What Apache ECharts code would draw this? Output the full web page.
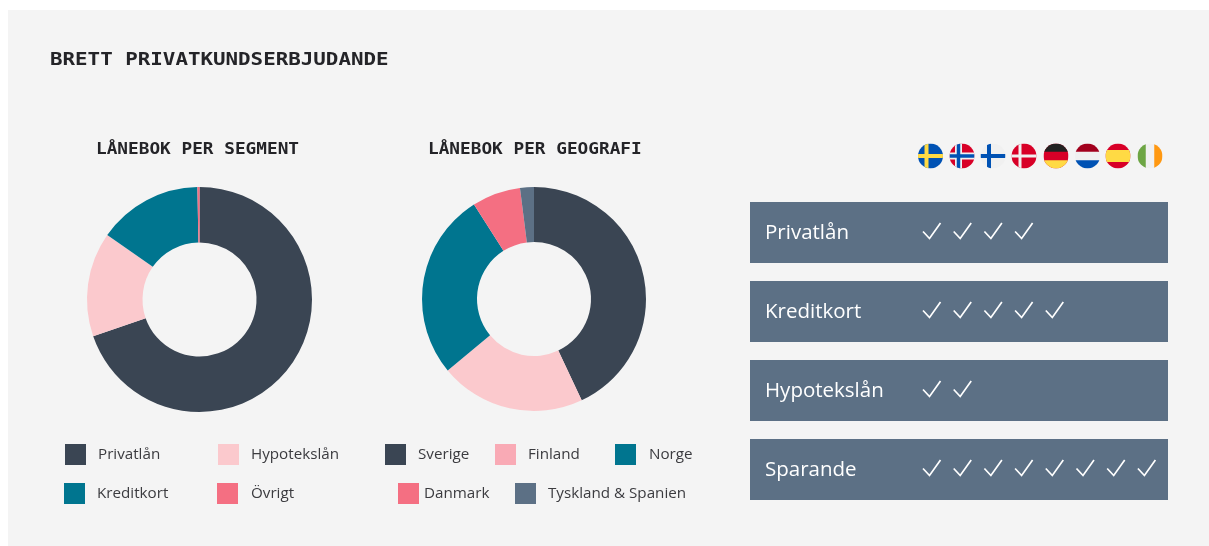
<!DOCTYPE html>
<html>
<head>
<meta charset="utf-8">
<style>
  html, body { margin: 0; padding: 0; background: #fff; }
  #main { width: 1209px; height: 546px; }
</style>
</head>
<body>
<div id="main"></div>
<script src="https://cdn.jsdelivr.net/npm/echarts@6/dist/echarts.min.js"></script>
<script>
// data
const segmentNames = ['Privatlån', 'Hypotekslån', 'Kreditkort', 'Övrigt'];
const segmentValues = [69.7, 15, 15, 0.3];
const segmentColors = ['#3a4553', '#fbc9cd', '#00758f', '#f46f82'];

const geoNames = ['Sverige', 'Finland', 'Norge', 'Danmark', 'Tyskland & Spanien'];
const geoValues = [43, 21, 27, 7, 2];
const geoColors = ['#3a4553', '#fbc9cd', '#00758f', '#f46f82', '#5c7085'];
const geoLegendColors = ['#3a4553', '#f9aab5', '#00758f', '#f46f82', '#5c7085'];

const offerNames = ['Privatlån', 'Kreditkort', 'Hypotekslån', 'Sparande'];
const offerChecks = [4, 5, 2, 8];

const mainTitle = 'BRETT PRIVATKUNDSERBJUDANDE';
const pieTitles = ['LÅNEBOK PER SEGMENT', 'LÅNEBOK PER GEOGRAFI'];

// legend positions: [swatch left, swatch top, text offset from swatch]
const segmentLegendPos = [[65, 444, 12], [218, 444, 12], [64, 483, 12], [217, 483, 13]];
const geoLegendPos = [[385, 444, 12], [495, 444, 12], [615, 444, 13], [398, 483, 5], [515, 483, 12]];

const MONO = '"DejaVu Sans Mono", "Liberation Mono", monospace';
const SANS = '"Open Sans", "Noto Sans", sans-serif';

function flagUrl(body) {
  const svg = '<svg xmlns="http://www.w3.org/2000/svg" width="50" height="50" viewBox="0 0 50 50">' +
    '<defs><clipPath id="c"><circle cx="25" cy="25" r="25"/></clipPath></defs>' +
    '<g clip-path="url(#c)">' + body + '</g></svg>';
  return 'data:image/svg+xml;charset=utf-8,' + encodeURIComponent(svg);
}
function r(x, y, w, h, c) {
  return '<rect x="' + x + '" y="' + y + '" width="' + w + '" height="' + h + '" fill="' + c + '"/>';
}
const flags = [
  r(0, 0, 50, 50, '#0052b4') + r(13, 0, 8, 50, '#ffda44') + r(0, 21, 50, 8, '#ffda44'),
  r(0, 0, 50, 50, '#d80027') + r(11, 0, 14, 50, '#f0f0f0') + r(0, 18, 50, 14, '#f0f0f0') + r(14.5, 0, 7, 50, '#0052b4') + r(0, 21.5, 50, 7, '#0052b4'),
  r(0, 0, 50, 50, '#f0f0f0') + r(13, 0, 8, 50, '#0052b4') + r(0, 21, 50, 8, '#0052b4'),
  r(0, 0, 50, 50, '#d80027') + r(14, 0, 6, 50, '#f0f0f0') + r(0, 22, 50, 6, '#f0f0f0'),
  r(0, 0, 50, 50, '#d80027') + r(0, 0, 50, 16.5, '#222') + r(0, 33.5, 50, 16.5, '#ffda44'),
  r(0, 0, 50, 50, '#f0f0f0') + r(0, 0, 50, 16.5, '#a2001d') + r(0, 33.5, 50, 16.5, '#0052b4'),
  r(0, 0, 50, 50, '#d80027') + r(0, 13, 50, 24, '#ffda44'),
  r(0, 0, 50, 50, '#f0f0f0') + r(0, 0, 16.5, 50, '#6da544') + r(33.5, 0, 16.5, 50, '#ff9811')
];
const flagX = [918, 949.5, 980.5, 1011.5, 1043.5, 1075, 1105.5, 1137.5];

const graphic = [
  { type: 'rect', silent: true, z: -10, shape: { x: 8, y: 10, width: 1201, height: 536 }, style: { fill: '#f4f4f4' } },
  // headings are stretched sideways to get the wide mono look of the original
  { type: 'text', silent: true, x: 50, y: 60.5, scaleX: 1.157, style: { text: mainTitle, fill: '#242428', font: 'bold 18px ' + MONO, verticalAlign: 'middle' } },
  { type: 'text', silent: true, x: 96, y: 149.5, scaleX: 1.145, style: { text: pieTitles[0], fill: '#242428', font: 'bold 15.5px ' + MONO, verticalAlign: 'middle' } },
  { type: 'text', silent: true, x: 428, y: 149.5, scaleX: 1.145, style: { text: pieTitles[1], fill: '#242428', font: 'bold 15.5px ' + MONO, verticalAlign: 'middle' } }
];
flags.forEach((body, i) => {
  graphic.push({ type: 'image', silent: true, style: { image: flagUrl(body), x: flagX[i], y: 143.5, width: 25, height: 25 } });
});
offerNames.forEach((name, i) => {
  const top = 202 + i * 79;
  graphic.push({ type: 'rect', silent: true, shape: { x: 750, y: top, width: 418, height: 61 }, style: { fill: '#5c7085' } });
  graphic.push({ type: 'text', silent: true, x: 765, y: top + 31.5, style: { text: name, fill: '#fff', font: '20.5px ' + SANS, verticalAlign: 'middle' } });
  for (let k = 0; k < offerChecks[i]; k++) {
    const x = 923 + k * 30.7;
    const y = top + 29.5;
    graphic.push({
      type: 'polyline', silent: true,
      shape: { points: [[x, y], [x + 6.5, y + 7], [x + 17.5, y - 8.5]] },
      style: { stroke: '#fff', lineWidth: 1.7, fill: null }
    });
  }
});

function makeLegends(names, colors, pos) {
  return names.map((name, i) => ({
    left: pos[i][0],
    top: pos[i][1],
    padding: 0,
    itemWidth: 21,
    itemHeight: 21,
    icon: 'rect',
    selectedMode: false,
    data: [{ name: name, itemStyle: { color: colors[i] } }],
    textStyle: {
      color: '#3b3b3f', fontFamily: SANS, fontSize: 15.2,
      padding: [0, 0, 7, pos[i][2] - 5]
    }
  }));
}

function makePie(center, radius, names, values, colors) {
  return {
    type: 'pie',
    center: center,
    radius: radius,
    startAngle: 90,
    silent: true,
    animation: false,
    label: { show: false },
    labelLine: { show: false },
    data: names.map((name, i) => ({ name: name, value: values[i], itemStyle: { color: colors[i] } }))
  };
}

const chart = echarts.init(document.getElementById('main'));
chart.setOption({
  backgroundColor: '#fff',
  animation: false,
  legend: makeLegends(segmentNames, segmentColors, segmentLegendPos)
    .concat(makeLegends(geoNames, geoLegendColors, geoLegendPos)),
  series: [
    makePie([199.5, 299.5], [57, 112.5], segmentNames, segmentValues, segmentColors),
    makePie([534, 299], [57, 112], geoNames, geoValues, geoColors)
  ],
  graphic: graphic
});
</script>
</body>
</html>
